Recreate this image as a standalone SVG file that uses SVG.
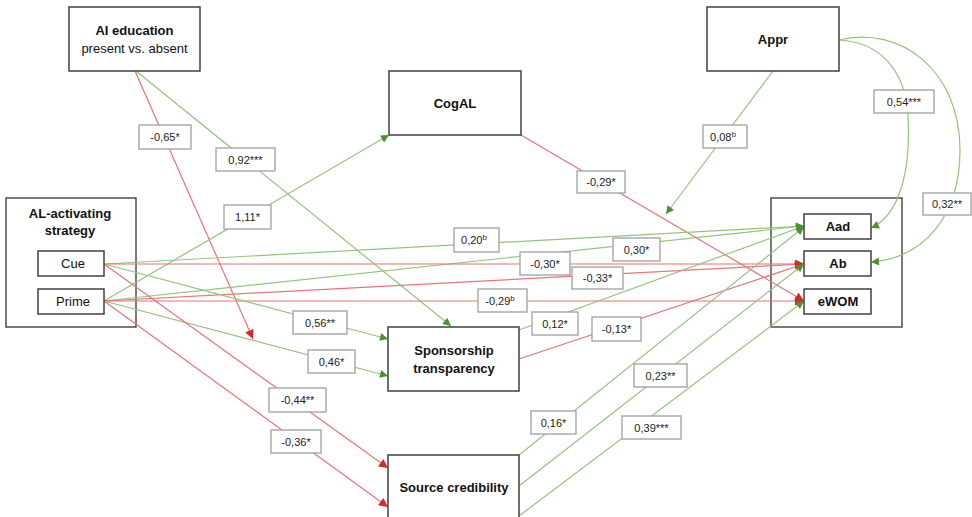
<svg xmlns="http://www.w3.org/2000/svg" width="972" height="517" viewBox="0 0 972 517">
<style>
.box{fill:#fff;stroke:#404040;stroke-width:1.5}
.outer{fill:#fff;stroke:#404040;stroke-width:1.4}
.t{font-family:"Liberation Sans",Arial,sans-serif;font-size:13px;fill:#111;text-anchor:middle}
.b{font-weight:bold}
.g{fill:none;stroke:#93C47D;stroke-width:1.2;marker-end:url(#ag)}
.r{fill:none;stroke:#E87474;stroke-width:1.2;marker-end:url(#ar)}
.lb{fill:#fff;stroke:#A6A6A6;stroke-width:1.4}
.lt{font-family:"Liberation Sans",Arial,sans-serif;font-size:11px;fill:#222;text-anchor:middle}
</style>
<defs>
<marker id="ag" viewBox="0 0 10 10" refX="10" refY="5" markerWidth="9" markerHeight="8" markerUnits="userSpaceOnUse" orient="auto"><path d="M0,0 L10,5 L0,10 z" fill="#4E8F32"/></marker>
<marker id="ar" viewBox="0 0 10 10" refX="10" refY="5" markerWidth="10" markerHeight="9" markerUnits="userSpaceOnUse" orient="auto"><path d="M0,0 L10,5 L0,10 z" fill="#D42A2A"/></marker>
</defs>
<rect width="972" height="517" fill="#fff"/>

<g id="al-strategy">
<rect class="outer" x="6" y="198" width="130" height="129"/>
<text class="t b" x="70" y="218">AL-activating</text>
<text class="t b" x="70" y="235">strategy</text>
</g>
<g id="outcomes">
<rect class="outer" x="771" y="198" width="131" height="129"/>
</g>

<g id="connectors">
<path class="r" d="M135,71 L253,339"/>
<path class="g" d="M136,71 L451,326"/>
<path class="g" d="M104,301 L389,135"/>
<path class="r" d="M521,135 L804,301"/>
<path class="g" d="M773,71 L666,214"/>
<path class="g" d="M839,40 C880,42 905,70 908,115 C911,170 900,215 871,228"/>
<path class="g" d="M839,40 C900,25 960,70 960,150 C960,215 925,258 871,262"/>
<path class="g" d="M104,264 L804,226"/>
<path class="g" d="M104,301 L804,226"/>
<path class="r" d="M104,264 L804,264"/>
<path class="r" d="M104,301 L804,264"/>
<path class="r" d="M104,301 L804,301"/>
<path class="g" d="M104,264 L388,339"/>
<path class="g" d="M104,301 L388,376"/>
<path class="r" d="M104,264 L388,468"/>
<path class="r" d="M104,301 L388,507"/>
<path class="g" d="M519,330 L804,226"/>
<path class="r" d="M519,359 L804,264"/>
<path class="g" d="M519,455 L804,227"/>
<path class="g" d="M519,486 L804,264"/>
<path class="g" d="M519,516 L804,301"/>

<rect class="lb" x="139" y="125" width="52" height="24"/><text class="lt" x="165" y="141">-0,65*</text>
<rect class="lb" x="216" y="148" width="59" height="23"/><text class="lt" x="245.5" y="163.5">0,92***</text>
<rect class="lb" x="224" y="205" width="47" height="24"/><text class="lt" x="247.5" y="221">1,11*</text>
<rect class="lb" x="577" y="171" width="48" height="22"/><text class="lt" x="601" y="186">-0,29*</text>
<rect class="lb" x="703" y="125" width="44" height="23"/><text class="lt" x="723" y="140.5">0,08<tspan font-size="8" dy="-4">b</tspan></text>
<rect class="lb" x="874" y="90" width="60" height="23"/><text class="lt" x="904" y="105.5">0,54***</text>
<rect class="lb" x="923" y="193" width="48" height="22"/><text class="lt" x="947" y="208">0,32**</text>
<rect class="lb" x="454" y="228" width="45" height="24"/><text class="lt" x="474" y="244">0,20<tspan font-size="8" dy="-4">b</tspan></text>
<rect class="lb" x="613" y="238" width="47" height="23"/><text class="lt" x="636.5" y="253.5">0,30*</text>
<rect class="lb" x="520" y="252" width="50" height="23"/><text class="lt" x="545" y="267.5">-0,30*</text>
<rect class="lb" x="572" y="267" width="51" height="22"/><text class="lt" x="597.5" y="282">-0,33*</text>
<rect class="lb" x="478" y="289" width="49" height="23"/><text class="lt" x="500" y="304.5">-0,29<tspan font-size="8" dy="-4">b</tspan></text>
<rect class="lb" x="293" y="311" width="54" height="23"/><text class="lt" x="320" y="326.5">0,56**</text>
<rect class="lb" x="308" y="350" width="47" height="23"/><text class="lt" x="331.5" y="365.5">0,46*</text>
<rect class="lb" x="269" y="388" width="57" height="24"/><text class="lt" x="297.5" y="404">-0,44**</text>
<rect class="lb" x="271" y="430" width="50" height="23"/><text class="lt" x="296" y="445.5">-0,36*</text>
<rect class="lb" x="532" y="312" width="46" height="23"/><text class="lt" x="555" y="327.5">0,12*</text>
<rect class="lb" x="592" y="317" width="49" height="24"/><text class="lt" x="616.5" y="333">-0,13*</text>
<rect class="lb" x="531" y="411" width="45" height="23"/><text class="lt" x="553.5" y="426.5">0,16*</text>
<rect class="lb" x="634" y="364" width="53" height="23"/><text class="lt" x="660.5" y="379.5">0,23**</text>
<rect class="lb" x="622" y="416" width="59" height="23"/><text class="lt" x="651.5" y="431.5">0,39***</text>
</g>

<g id="ai-education">
<rect class="box" x="69" y="7" width="131" height="64"/>
<text class="t b" x="134.5" y="35">AI education</text>
<text class="t" x="134.5" y="53">present vs.  absent</text>
</g>
<g id="cogal">
<rect class="box" x="389" y="71" width="132" height="64"/>
<text class="t b" x="455" y="108">CogAL</text>
</g>
<g id="appr">
<rect class="box" x="707" y="7" width="132" height="64"/>
<text class="t b" x="773" y="44">Appr</text>
</g>
<g id="cue">
<rect class="box" x="38" y="251" width="66" height="25"/>
<text class="t" x="73" y="268">Cue</text>
</g>
<g id="prime">
<rect class="box" x="38" y="289" width="66" height="25"/>
<text class="t" x="73" y="306">Prime</text>
</g>
<g id="sponsorship">
<rect class="box" x="388" y="327" width="131" height="64"/>
<text class="t b" x="454" y="355">Sponsorship</text>
<text class="t b" x="454" y="373">transparency</text>
</g>
<g id="source">
<rect class="box" x="388" y="455" width="131" height="64"/>
<text class="t b" x="454" y="492">Source credibility</text>
</g>
<g id="aad">
<rect class="box" x="804" y="214" width="67" height="25"/>
<text class="t b" x="838" y="231">Aad</text>
</g>
<g id="ab">
<rect class="box" x="804" y="251" width="67" height="25"/>
<text class="t b" x="838" y="268">Ab</text>
</g>
<g id="ewom">
<rect class="box" x="804" y="289" width="67" height="25"/>
<text class="t b" x="838" y="306">eWOM</text>
</g>
</svg>
